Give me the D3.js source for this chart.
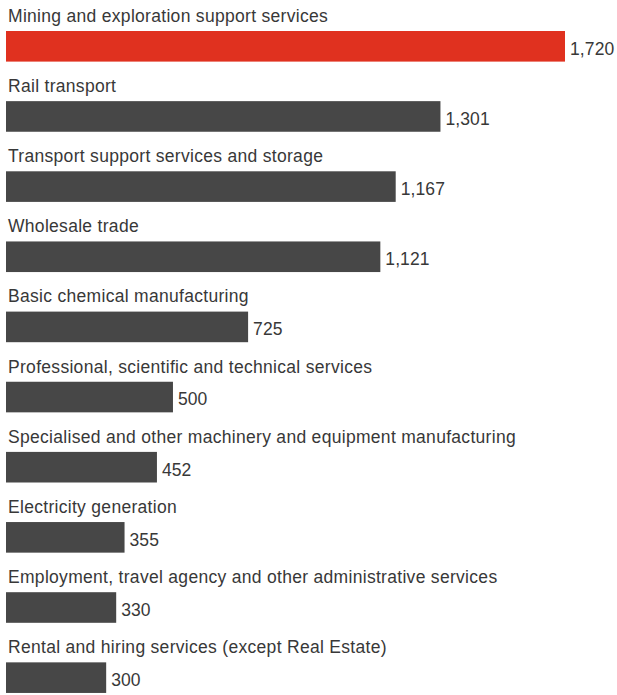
<!DOCTYPE html>
<html>
<head>
<meta charset="utf-8">
<script src="https://cdn.jsdelivr.net/npm/d3@7"></script>
<style>
  html, body { margin: 0; padding: 0; background: #fff; }
  svg { display: block; }
  text { font-family: "Liberation Sans", Arial, sans-serif; fill: #383838; }
</style>
</head>
<body>
<svg id="chart" width="617" height="695"></svg>
<script>
// Industries, ranked by value
const categories = [
  "Mining and exploration support services",
  "Rail transport",
  "Transport support services and storage",
  "Wholesale trade",
  "Basic chemical manufacturing",
  "Professional, scientific and technical services",
  "Specialised and other machinery and equipment manufacturing",
  "Electricity generation",
  "Employment, travel agency and other administrative services",
  "Rental and hiring services (except Real Estate)"
];
const values = [1720, 1301, 1167, 1121, 725, 500, 452, 355, 330, 300];
const highlight = ["Mining and exploration support services"];

const data = categories.map((c, i) => ({ name: c, value: values[i] }));

const svg = d3.select("#chart");
const left = 6;
const rowPitch = 70.15;
const labelBaseline = 21.8;
const barTop = 31;
const barH = 30.6;

// rows: one band per industry
const y = d3.scaleBand()
  .domain(categories)
  .range([0, rowPitch * categories.length])
  .paddingInner(0).paddingOuter(0);

// bar length; longest bar is capped so its value label still fits
const x = d3.scaleLinear()
  .domain([0, 1674])
  .range([0, 559])
  .clamp(true);

const fmt = d3.format(",");

const row = svg.selectAll("g.row")
  .data(data)
  .join("g")
  .attr("class", "row")
  .attr("transform", d => `translate(${left},${y(d.name)})`);

row.append("text")
  .attr("x", 2)
  .attr("y", labelBaseline)
  .style("font-size", "17.5px")
  .style("letter-spacing", "0.3px")
  .text(d => d.name);

row.append("rect")
  .attr("x", 0)
  .attr("y", barTop)
  .attr("width", d => x(d.value))
  .attr("height", barH)
  .attr("fill", d => highlight.includes(d.name) ? "#e0311f" : "#474747");

row.append("text")
  .attr("x", d => x(d.value) + 5)
  .attr("y", barTop + barH / 2)
  .attr("dy", "0.48em")
  .style("font-size", "17.5px")
  .style("letter-spacing", "0.1px")
  .text(d => fmt(d.value));
</script>
</body>
</html>
